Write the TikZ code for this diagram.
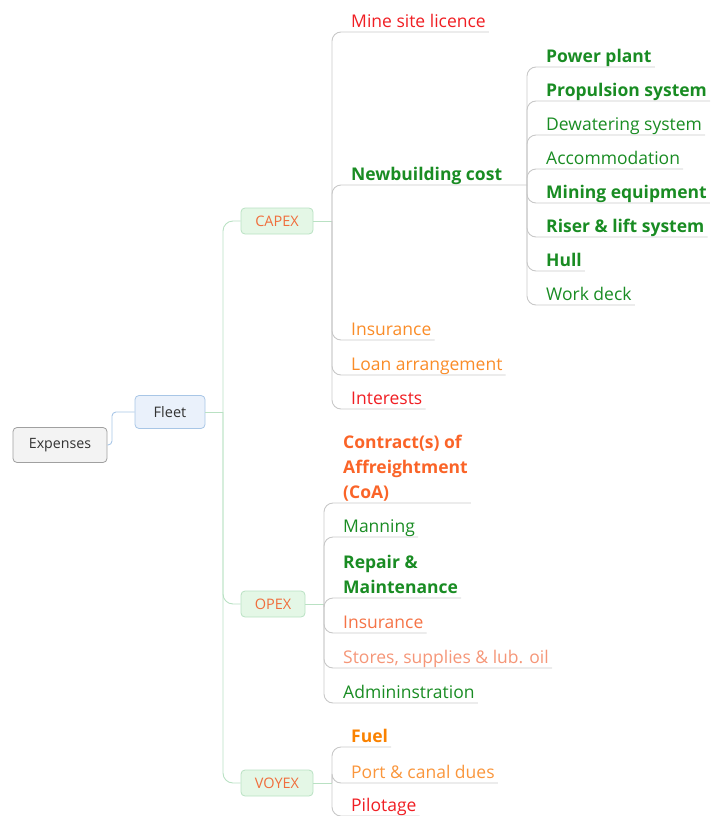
\documentclass[tikz,border=0pt]{standalone}
\usepackage{fontspec}
\setmainfont{Open Sans}
\definecolor{cred}{RGB}{240,30,35}
\definecolor{cgreen}{RGB}{25,140,35}
\definecolor{corange}{RGB}{250,140,40}
\definecolor{ccoa}{RGB}{250,100,40}
\definecolor{cins}{RGB}{245,115,70}
\definecolor{cstore}{RGB}{245,150,120}
\definecolor{cfuel}{RGB}{250,130,0}
\definecolor{cport}{RGB}{250,150,60}
\definecolor{ccat}{RGB}{240,110,60}
\definecolor{cline}{RGB}{200,200,200}
\definecolor{gline}{RGB}{185,225,195}
\definecolor{bline}{RGB}{168,198,230}
\begin{document}
\begin{tikzpicture}[x=1pt,y=-1pt,
  leaf/.style={anchor=south west, inner xsep=3pt, inner ysep=0pt, text depth=4pt, align=left, font=\fontsize{17.5}{25}\selectfont},
  leafb/.style={leaf, font=\fontsize{17.5}{25}\selectfont\bfseries},
  conn/.style={draw=cline, line width=0.9pt, rounded corners=9pt},
  gconn/.style={draw=gline, line width=0.9pt, rounded corners=10pt},
  cat/.style={draw=gline, fill={rgb,255:red,228;green,247;blue,230}, rounded corners=4pt, line width=0.8pt, minimum height=26pt, inner sep=0pt, text=ccat, font=\fontsize{14.5}{16}\selectfont}
]
\useasboundingbox (0,0) rectangle (713,816);

% root and fleet
\node[draw={rgb,255:red,160;green,160;blue,160}, fill={rgb,255:red,243;green,243;blue,243}, rounded corners=4pt, line width=0.8pt, minimum width=94pt, minimum height=35pt, inner sep=0pt, text={rgb,255:red,50;green,50;blue,50}, font=\fontsize{14.2}{16}\selectfont] (exp) at (60,445) {Expenses};
\node[draw=bline, fill={rgb,255:red,234;green,241;blue,251}, rounded corners=4pt, line width=0.8pt, minimum width=70pt, minimum height=33pt, inner sep=0pt, text={rgb,255:red,50;green,50;blue,50}, font=\fontsize{14.5}{16}\selectfont] (fleet) at (170,412) {Fleet};
\coordinate (eJ) at (112,428);
\draw[draw=bline, line width=0.9pt, rounded corners=4pt] (exp.east) -| (eJ) |- (fleet.west);

% categories
\node[cat, minimum width=72pt] (capex) at (277,221) {CAPEX};
\node[cat, minimum width=64pt] (opex) at (273,604) {OPEX};
\node[cat, minimum width=72pt] (voyex) at (277,783) {VOYEX};
\coordinate (fJ) at (223,412);
\draw[draw=gline, line width=0.9pt] (fleet.east) -- (fJ);
\draw[gconn] (fJ) |- (capex.west);
\draw[gconn] (fJ) |- (opex.west);
\draw[gconn] (fJ) |- (voyex.west);

% CAPEX children
\coordinate (cJ) at (332,221);
\draw[draw=gline, line width=0.9pt] (capex.east) -- (cJ);
\node[leaf, text=cred] (mine) at (348,32) {Mine site licence};
\node[leafb, text=cgreen] (nb) at (348,185) {Newbuilding cost};
\node[leaf, text=corange] (ins1) at (348,340) {Insurance};
\node[leaf, text=corange] (loan) at (348,375) {Loan arrangement};
\node[leaf, text=cred] (int) at (348,409) {Interests};
\coordinate (nbJ) at (527,185);
\draw[conn] (cJ) |- (mine.south east);
\draw[conn] (cJ) |- (nbJ);
\draw[conn] (cJ) |- (ins1.south east);
\draw[conn] (cJ) |- (loan.south east);
\draw[conn] (cJ) |- (int.south east);

% Newbuilding children
\node[leafb, text=cgreen] (pp) at (543,67) {Power plant};
\node[leafb, text=cgreen] (prop) at (543,101) {Propulsion system};
\node[leaf, text=cgreen] (dew) at (543,135) {Dewatering system};
\node[leaf, text=cgreen] (acc) at (543,169) {Accommodation};
\node[leafb, text=cgreen] (mineq) at (543,203) {Mining equipment};
\node[leafb, text=cgreen] (riser) at (543,237) {Riser \& lift system};
\node[leafb, text=cgreen] (hull) at (543,271) {Hull};
\node[leaf, text=cgreen] (wd) at (543,305) {Work deck};
\foreach \n in {pp,prop,dew,acc,mineq,riser,hull,wd}
  \draw[conn] (nbJ) |- (\n.south east);

% OPEX children
\coordinate (oJ) at (324,604);
\draw[draw=gline, line width=0.9pt] (opex.east) -- (oJ);
\node[leafb, text=ccoa] (coa) at (340,503) {Contract(s) of\\Affreightment\\(CoA)};
\node[leaf, text=cgreen] (man) at (340,537) {Manning};
\node[leafb, text=cgreen] (rep) at (340,598) {Repair \&\\Maintenance};
\node[leaf, text=cins] (ins2) at (340,633) {Insurance};
\node[leaf, text=cstore] (sto) at (340,668) {Stores, supplies \& lub. oil};
\node[leaf, text=cgreen] (adm) at (340,703) {Admininstration};
\foreach \n in {coa,man,rep,ins2,sto,adm}
  \draw[conn] (oJ) |- (\n.south east);

% VOYEX children
\coordinate (vJ) at (332,783);
\draw[draw=gline, line width=0.9pt] (voyex.east) -- (vJ);
\node[leafb, text=cfuel] (fuel) at (348,747) {Fuel};
\node[leaf, text=cport] (port) at (348,783) {Port \& canal dues};
\node[leaf, text=cred] (pil) at (348,816) {Pilotage};
\foreach \n in {fuel,port,pil}
  \draw[conn] (vJ) |- (\n.south east);
\end{tikzpicture}
\end{document}
